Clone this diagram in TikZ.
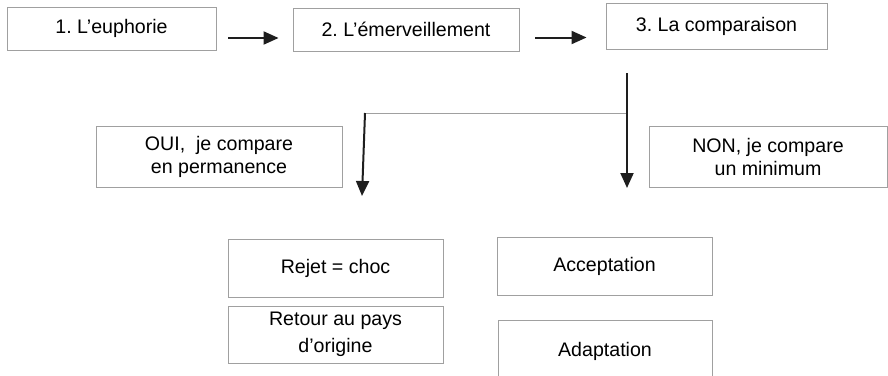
\documentclass[tikz,border=0pt]{standalone}
\usepackage{fontspec}
\setmainfont{Liberation Sans}
\usetikzlibrary{arrows.meta}
\definecolor{boxgray}{HTML}{A0A0A0}
\definecolor{arrowblk}{HTML}{1E1E1E}
\frenchspacing
\tikzset{
  box/.style={draw=boxgray, line width=0.9pt, fill=white, inner sep=0pt, align=center,
    font=\fontsize{19.6}{23}\selectfont\frenchspacing, text=black},
  arr/.style={draw=arrowblk, line width=2pt, -{Triangle[length=15pt,width=13pt]}},
  branch/.style={draw=boxgray, line width=0.9pt}
}
\begin{document}
\begin{tikzpicture}[x=1pt,y=-1pt]
\useasboundingbox (0,0) rectangle (888,375);
\begin{scope}
\clip (0,0) rectangle (888,375);
\node[box, minimum width=209pt, minimum height=43pt] (b1) at (111.5,28.5) {1. L’euphorie};
\node[box, minimum width=226pt, minimum height=43pt] (b2) at (406,29.5) {2. L’émerveillement};
\node[box, minimum width=221pt, minimum height=46pt] (b3) at (716.5,26) {3. La comparaison};
\node[box, minimum width=246pt, minimum height=61pt] (oui) at (219,156.5) {OUI,\ \ je compare\\en permanence};
\node[box, minimum width=238pt, minimum height=61pt] (non) at (768,156.5) {NON, je compare\\un minimum};
\node[box, minimum width=215pt, minimum height=58pt] (rejet) at (335.5,268) {Rejet = choc};
\node[box, minimum width=215pt, minimum height=57pt] (retour) at (335.5,334.5) {Retour au pays\\[4pt]d’origine};
\node[box, minimum width=215pt, minimum height=58pt] (accept) at (604.5,266) {Acceptation};
\node[box, minimum width=214pt, minimum height=62pt] (adapt) at (605,351) {Adaptation};

\coordinate (r0) at (627,73);
\coordinate (r1) at (627,188);
\coordinate (bl) at (365,113);
\coordinate (br) at (627,113);
\coordinate (l1) at (362,196);

\draw[arr] ([xshift=12pt,yshift=-9.5pt]b1.east) -- ([yshift=-9.5pt,xshift=-14pt]b1.east -| b2.west);
\draw[arr] ([xshift=16pt,yshift=-8pt]b2.east) -- ([yshift=-8pt,xshift=-19pt]b2.east -| b3.west);
\draw[branch] (bl) -- (br);
\draw[arr] (r0) -- (r1);
\draw[arr] (bl) -- (l1);
\end{scope}
\end{tikzpicture}
\end{document}
